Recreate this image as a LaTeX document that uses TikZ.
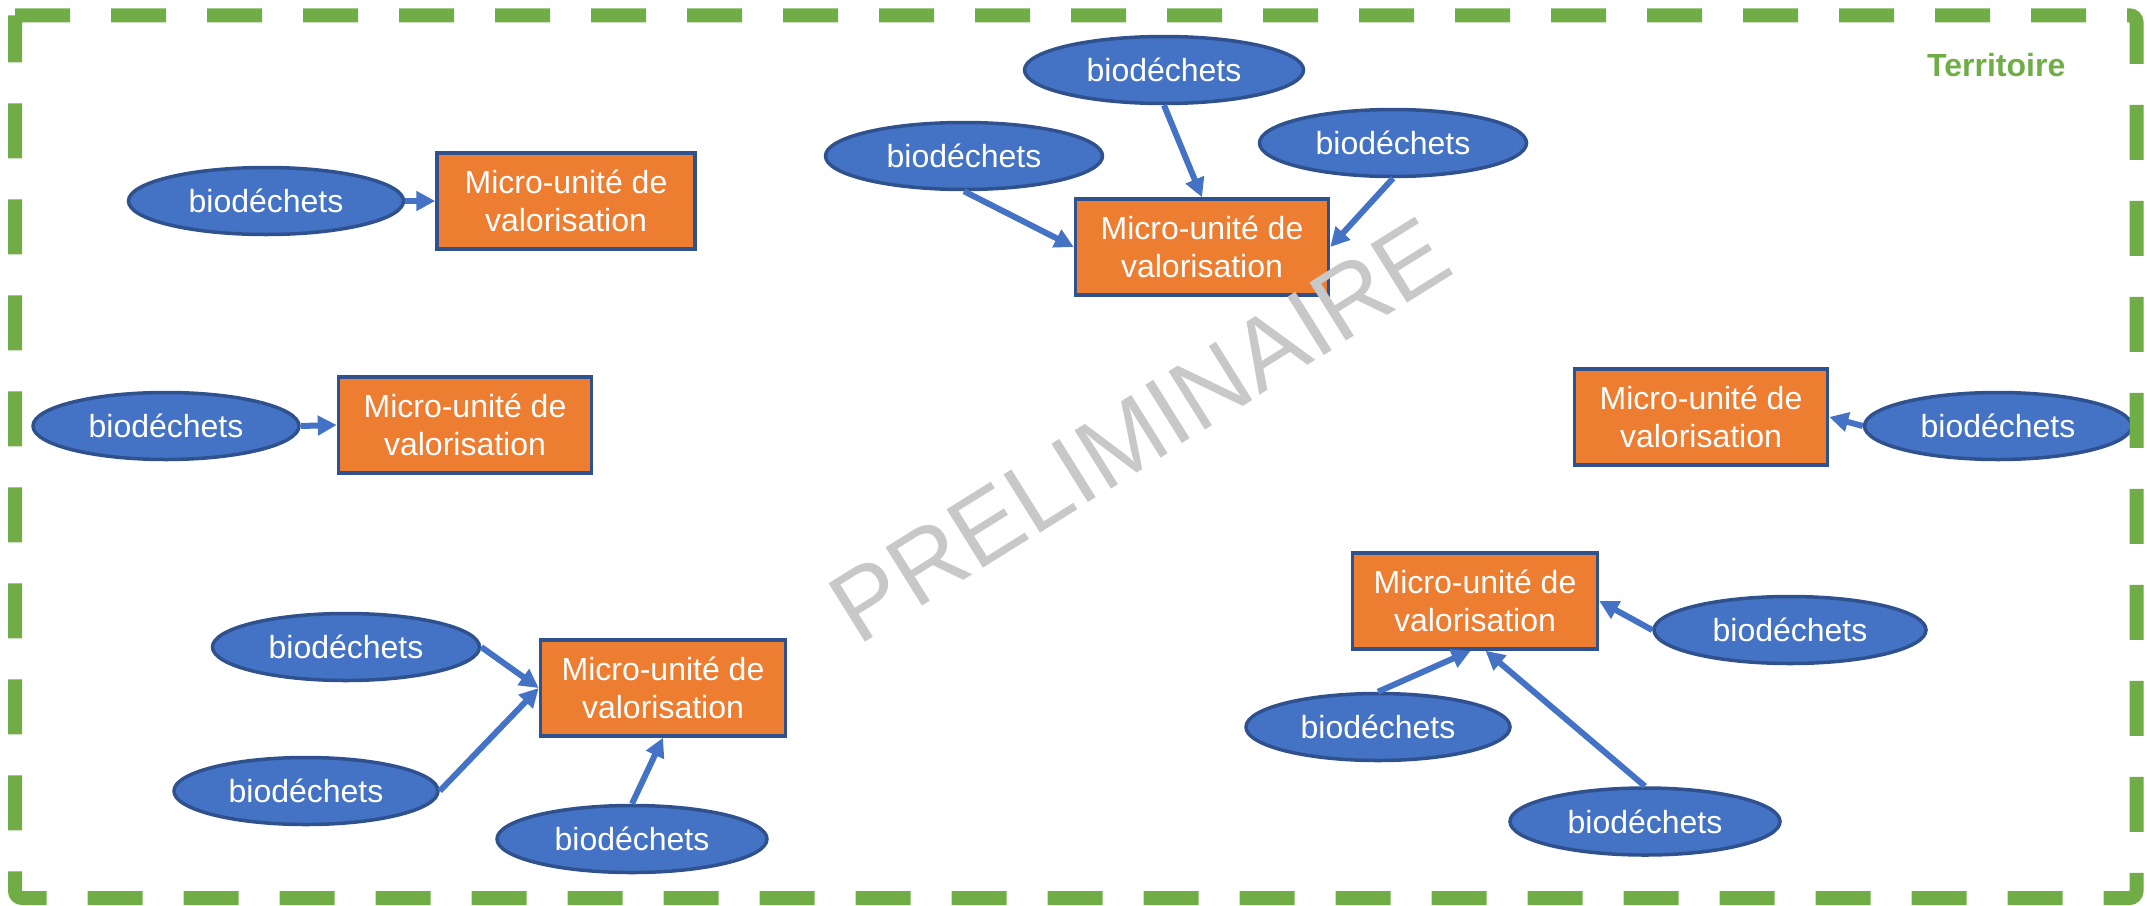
\documentclass[tikz,border=0pt]{standalone}
\usepackage{fontspec}
\setmainfont{Liberation Sans}
\usetikzlibrary{shapes.geometric,arrows.meta}
\definecolor{ebleu}{HTML}{4472C4}
\definecolor{dbleu}{HTML}{2F528F}
\definecolor{orangebox}{HTML}{ED7D31}
\definecolor{vert}{HTML}{70AD47}
\definecolor{filigrane}{RGB}{200,200,200}
\begin{document}
\begin{tikzpicture}[x=1pt,y=-1pt,
  dechet/.style={ellipse, draw=dbleu, fill=ebleu, line width=3.5pt, minimum height=67pt, minimum width=270pt, inner sep=0pt, text=white, font=\fontsize{32}{38.5}\selectfont},
  unite/.style={rectangle, draw=dbleu, fill=orangebox, line width=3.5pt, minimum height=96pt, minimum width=253pt, inner sep=0pt, text=white, align=center, font=\fontsize{32}{38.5}\selectfont},
  fleche/.style={draw=ebleu, line width=6pt, -{Triangle[length=19pt,width=19pt]}},
  cadre/.style={draw=vert, line width=14pt, dash pattern=on 55pt off 41pt, rounded corners=7pt},
]
\useasboundingbox (0,0) rectangle (2147,905);

% units
\node[unite, minimum width=258pt] (B1) at (566,201) {Micro-unité de\\valorisation};
\node[unite] (B2) at (465,425) {Micro-unité de\\valorisation};
\node[unite] (B3) at (1202,247) {Micro-unité de\\valorisation};
\node[unite] (B4) at (1701,417) {Micro-unité de\\valorisation};
\node[unite, minimum width=245pt] (B5) at (1475,601) {Micro-unité de\\valorisation};
\node[unite, minimum width=245pt] (B6) at (663,688) {Micro-unité de\\valorisation};

% biodechets
\node[dechet, minimum width=275pt] (E1) at (266,201) {biodéchets};
\node[dechet, minimum width=266pt] (E2) at (166,426) {biodéchets};
\node[dechet, minimum width=279pt] (E3a) at (1164,70) {biodéchets};
\node[dechet, minimum width=277pt] (E3b) at (964,156) {biodéchets};
\node[dechet, minimum width=267pt] (E3c) at (1393,143) {biodéchets};
\node[dechet, minimum width=267pt] (E4) at (1998,426) {biodéchets};
\node[dechet, minimum width=272pt] (E5a) at (1790,630) {biodéchets};
\node[dechet, minimum width=264pt] (E5b) at (1378,727) {biodéchets};
\node[dechet] (E5c) at (1645,821.5) {biodéchets};
\node[dechet, minimum width=267pt] (E6a) at (346,647) {biodéchets};
\node[dechet, minimum width=264pt] (E6b) at (306,791) {biodéchets};
\node[dechet] (E6c) at (632,839) {biodéchets};

% connectors
\draw[fleche] (E1.east) -- (B1.west);
\draw[fleche] (E2.east) -- (B2.west);
\draw[fleche] (E3a.south) -- (B3.north);
\draw[fleche] (E3b.south) -- (B3.west);
\draw[fleche] (E3c.south) -- (B3.east);
\draw[fleche] (E4.west) -- (B4.east);
\draw[fleche] (E5a.west) -- (B5.east);
\draw[fleche] (E5b.north) -- (B5.265);
\draw[fleche] (E5c.north) -- (B5.282);
\draw[fleche] (E6a.east) -- (B6.west);
\draw[fleche] (E6b.east) -- (B6.west);
\draw[fleche] (E6c.north) -- (B6.south);

% frame
\draw[cadre] (15,15.3) -- (2136.5,15.3) -- (2136.5,898) -- (15,898) -- (15,15.3);
\node[anchor=base west, text=vert, font=\bfseries\fontsize{32}{38}\selectfont, inner sep=0pt] (terr) at (1927,76.7) {Territoire};

% watermark
\node[rotate=32, text=filigrane, font=\fontsize{100}{120}\selectfont, inner sep=0pt] (wm) at (1140,430) {PRELIMINAIRE};
\end{tikzpicture}
\end{document}
